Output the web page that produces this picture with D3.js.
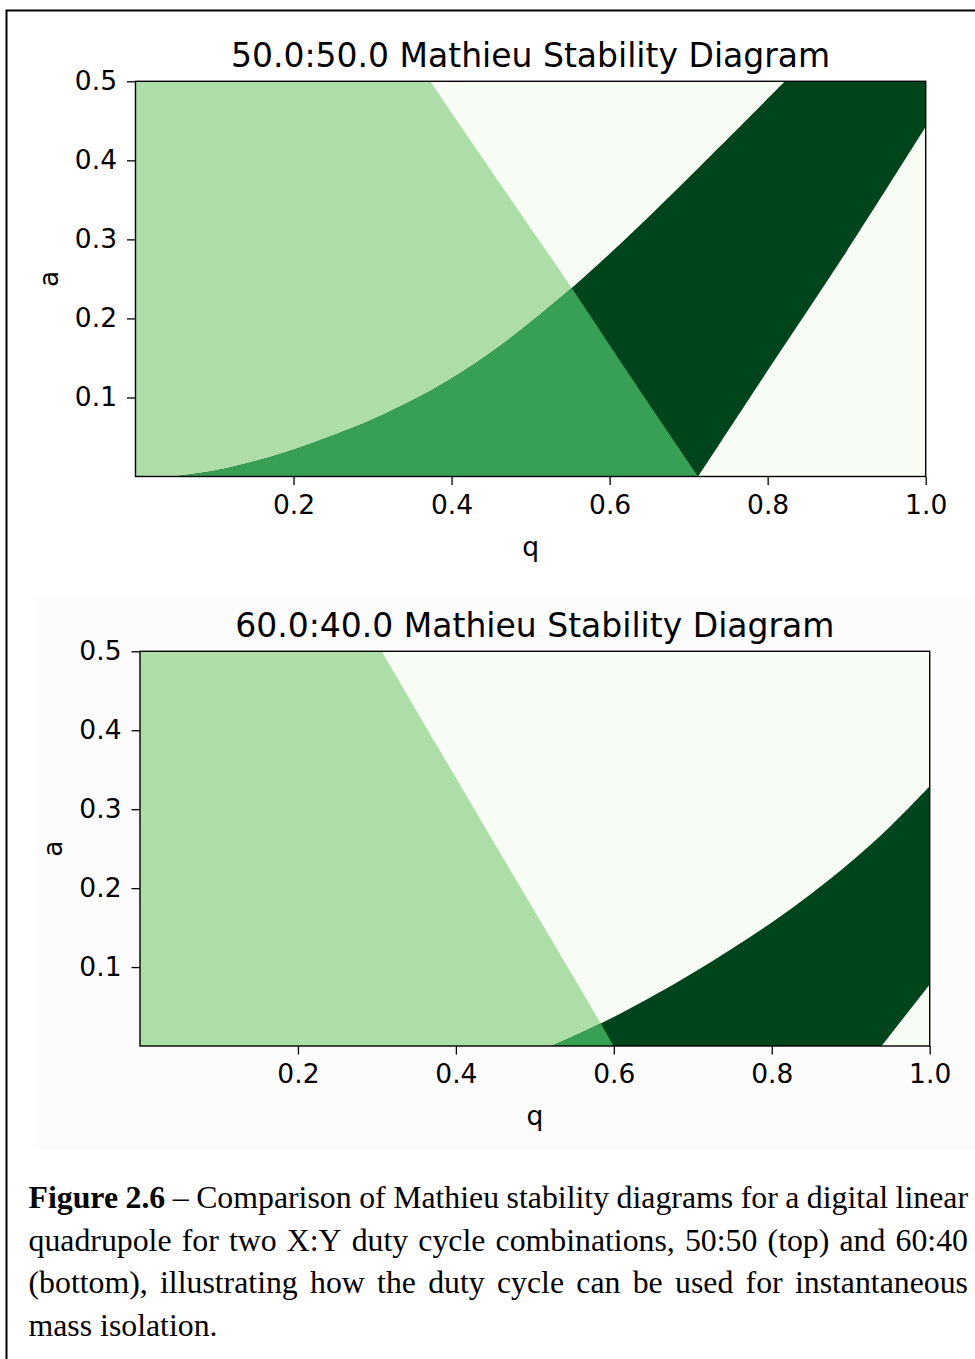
<!DOCTYPE html>
<html>
<head>
<meta charset="utf-8">
<script src="https://cdn.jsdelivr.net/npm/d3@7"></script>
<style>
  body { margin: 0; background: #fff; }
</style>
</head>
<body>
<div id="output"></div>
<script>
// Tick values shared by both diagrams
const qTicks = [0.2, 0.4, 0.6, 0.8, 1.0];
const aTicks = [0.1, 0.2, 0.3, 0.4, 0.5];

// 50:50 duty cycle, stability boundaries as (q, a)
const top_xEdgeQ = [0.373, 0.461, 0.552, 0.630, 0.712];
const top_xEdgeA = [0.5, 0.371, 0.2385, 0.121, 0];
const top_yUpperQ = [0.047, 0.10, 0.15, 0.20, 0.25, 0.30, 0.35, 0.40, 0.465, 0.552, 0.630, 0.714, 0.822];
const top_yUpperA = [0, 0.0074, 0.019, 0.034, 0.052, 0.072, 0.096, 0.124, 0.168, 0.2385, 0.310, 0.392, 0.5];
const top_yLowerQ = [0.712, 0.80, 0.90, 1.0];
const top_yLowerA = [0, 0.134, 0.285, 0.4426];

// 60:40 duty cycle
const bot_xEdgeQ = [0.306, 0.451, 0.5835, 0.5995];
const bot_xEdgeA = [0.5, 0.253, 0.0284, 0];
const bot_yUpperQ = [0.5215, 0.5835, 0.65, 0.70, 0.75, 0.80, 0.85, 0.90, 0.95, 1.0];
const bot_yUpperA = [0, 0.0284, 0.0636, 0.0926, 0.1236, 0.1566, 0.193, 0.233, 0.278, 0.329];
const bot_yLowerQ = [0.939, 1.0];
const bot_yLowerA = [0, 0.078];

const captionLines = [
  "Figure 2.6 – Comparison of Mathieu stability diagrams for a digital linear",
  "quadrupole for two X:Y duty cycle combinations, 50:50 (top) and 60:40",
  "(bottom), illustrating how the duty cycle can be used for instantaneous",
  "mass isolation."
];
const captionBoldWords = 2; // "Figure 2.6"

// Greens colormap levels
const colors = {none: "#f7fcf5", x: "#addea7", both: "#37a055", y: "#00441b"};

const W = 975, H = 1359;
const svg = d3.select("#output").append("svg")
  .attr("width", W)
  .attr("height", H)
  .style("display", "block");

// faint panel behind the lower figure image
svg.append("rect")
  .attr("x", 36).attr("y", 596).attr("width", W - 36).attr("height", 553)
  .attr("fill", "#fcfcfc");

// page frame (top and left edges visible)
svg.append("path")
  .attr("d", `M${W},10.5H6.5V${H}`)
  .attr("fill", "none")
  .attr("stroke", "#000")
  .attr("stroke-width", 2);

function PlotDiagram(id, box, title, data) {
  const x = d3.scaleLinear().domain([0, 1]).range([box.left, box.right]);
  const y = d3.scaleLinear().domain([0, 0.5]).range([box.bottom, box.top]);
  const w = box.right - box.left, h = box.bottom - box.top;

  const smooth = d3.line()
    .x(d => x(d[0]))
    .y(d => y(d[1]))
    .curve(d3.curveCatmullRom.alpha(0.5));

  const xEdge = d3.zip(data.xEdgeQ, data.xEdgeA);
  const yUpper = d3.zip(data.yUpperQ, data.yUpperA);
  const yLower = d3.zip(data.yLowerQ, data.yLowerA);

  // x-stable region: everything left of the x edge
  const xPath = `M${x(0)},${y(0)}L${x(0)},${y(0.5)}` +
    smooth(xEdge).replace(/^M/, "L") + "Z";

  // y-stable region: between the upper curve and the lower edge
  let yPath = smooth(yUpper);
  const lastU = yUpper[yUpper.length - 1], lastL = yLower[yLower.length - 1];
  if (lastU[1] >= 0.5 && lastL[0] >= 1) yPath += `L${x(1)},${y(0.5)}`;
  yPath += smooth(yLower.slice().reverse()).replace(/^M/, "L") + "Z";

  const defs = svg.append("defs");
  defs.append("clipPath").attr("id", id + "-plot")
    .append("rect").attr("x", box.left).attr("y", box.top).attr("width", w).attr("height", h);
  defs.append("clipPath").attr("id", id + "-xs")
    .append("path").attr("d", xPath);

  const g = svg.append("g");
  const area = g.append("g").attr("clip-path", `url(#${id}-plot)`);

  area.append("rect")
    .attr("x", box.left).attr("y", box.top).attr("width", w).attr("height", h)
    .attr("fill", colors.none);
  area.append("path").attr("d", xPath).attr("fill", colors.x);
  area.append("path").attr("d", yPath).attr("fill", colors.y);
  area.append("g").attr("clip-path", `url(#${id}-xs)`)
    .append("path").attr("d", yPath).attr("fill", colors.both);

  // Axes
  const fmt = d3.format(".1f");
  const styleAxis = sel => {
    sel.select(".domain").remove();
    sel.attr("font-size", 26.5).attr("font-family", "'DejaVu Sans', sans-serif");
    sel.selectAll("line").attr("stroke", "#000").attr("stroke-width", 1.3);
    sel.selectAll("text").attr("fill", "#000");
  };

  g.append("g")
    .attr("transform", `translate(0,${box.bottom})`)
    .call(d3.axisBottom(x).tickValues(qTicks).tickFormat(fmt).tickSize(8.5).tickPadding(10))
    .call(styleAxis);

  g.append("g")
    .attr("transform", `translate(${box.left},0)`)
    .call(d3.axisLeft(y).tickValues(aTicks).tickFormat(fmt).tickSize(8.5).tickPadding(10))
    .call(styleAxis);

  // Frame
  g.append("rect")
    .attr("x", box.left).attr("y", box.top).attr("width", w).attr("height", h)
    .attr("fill", "none").attr("stroke", "#000").attr("stroke-width", 1.4);

  // Title
  g.append("text")
    .attr("x", (box.left + box.right) / 2)
    .attr("y", box.top - 14.6)
    .attr("text-anchor", "middle")
    .attr("font-family", "'DejaVu Sans', sans-serif")
    .attr("font-size", 33)
    .text(title);

  // X axis label
  g.append("text")
    .attr("x", (box.left + box.right) / 2)
    .attr("y", box.bottom + 79)
    .attr("text-anchor", "middle")
    .attr("font-family", "'DejaVu Sans', sans-serif")
    .attr("font-size", 26.5)
    .text("q");

  // Y axis label
  g.append("text")
    .attr("transform", `translate(${box.left - 78},${(box.top + box.bottom) / 2}) rotate(-90)`)
    .attr("text-anchor", "middle")
    .attr("font-family", "'DejaVu Sans', sans-serif")
    .attr("font-size", 26.5)
    .text("a");
}

PlotDiagram("top", {left: 135.5, right: 925.7, top: 81.3, bottom: 476.5},
  "50.0:50.0 Mathieu Stability Diagram",
  {xEdgeQ: top_xEdgeQ, xEdgeA: top_xEdgeA, yUpperQ: top_yUpperQ, yUpperA: top_yUpperA,
   yLowerQ: top_yLowerQ, yLowerA: top_yLowerA});

PlotDiagram("bot", {left: 140, right: 929.7, top: 651.3, bottom: 1046},
  "60.0:40.0 Mathieu Stability Diagram",
  {xEdgeQ: bot_xEdgeQ, xEdgeA: bot_xEdgeA, yUpperQ: bot_yUpperQ, yUpperA: bot_yUpperA,
   yLowerQ: bot_yLowerQ, yLowerA: bot_yLowerA});

// Caption, justified between left and right margins
const capLeft = 28.5, capRight = 968, capSize = 31.8, capTop = 1208, capStep = 42.7;
const cap = svg.append("g")
  .attr("font-family", "'Liberation Serif', 'Times New Roman', serif")
  .attr("font-size", capSize)
  .attr("fill", "#000");

captionLines.forEach((line, li) => {
  const words = line.split(" ");
  const nodes = words.map((wd, wi) => cap.append("text")
    .attr("y", capTop + li * capStep)
    .attr("font-weight", (li === 0 && wi < captionBoldWords) ? "bold" : "normal")
    .text(wd));
  const widths = nodes.map(n => n.node().getComputedTextLength());
  const total = d3.sum(widths);
  const last = li === captionLines.length - 1;
  const gap = last ? capSize * 0.25 : (capRight - capLeft - total) / (words.length - 1);
  let cx = capLeft;
  nodes.forEach((n, i) => {
    n.attr("x", cx);
    cx += widths[i] + gap;
  });
});
</script>
</body>
</html>
